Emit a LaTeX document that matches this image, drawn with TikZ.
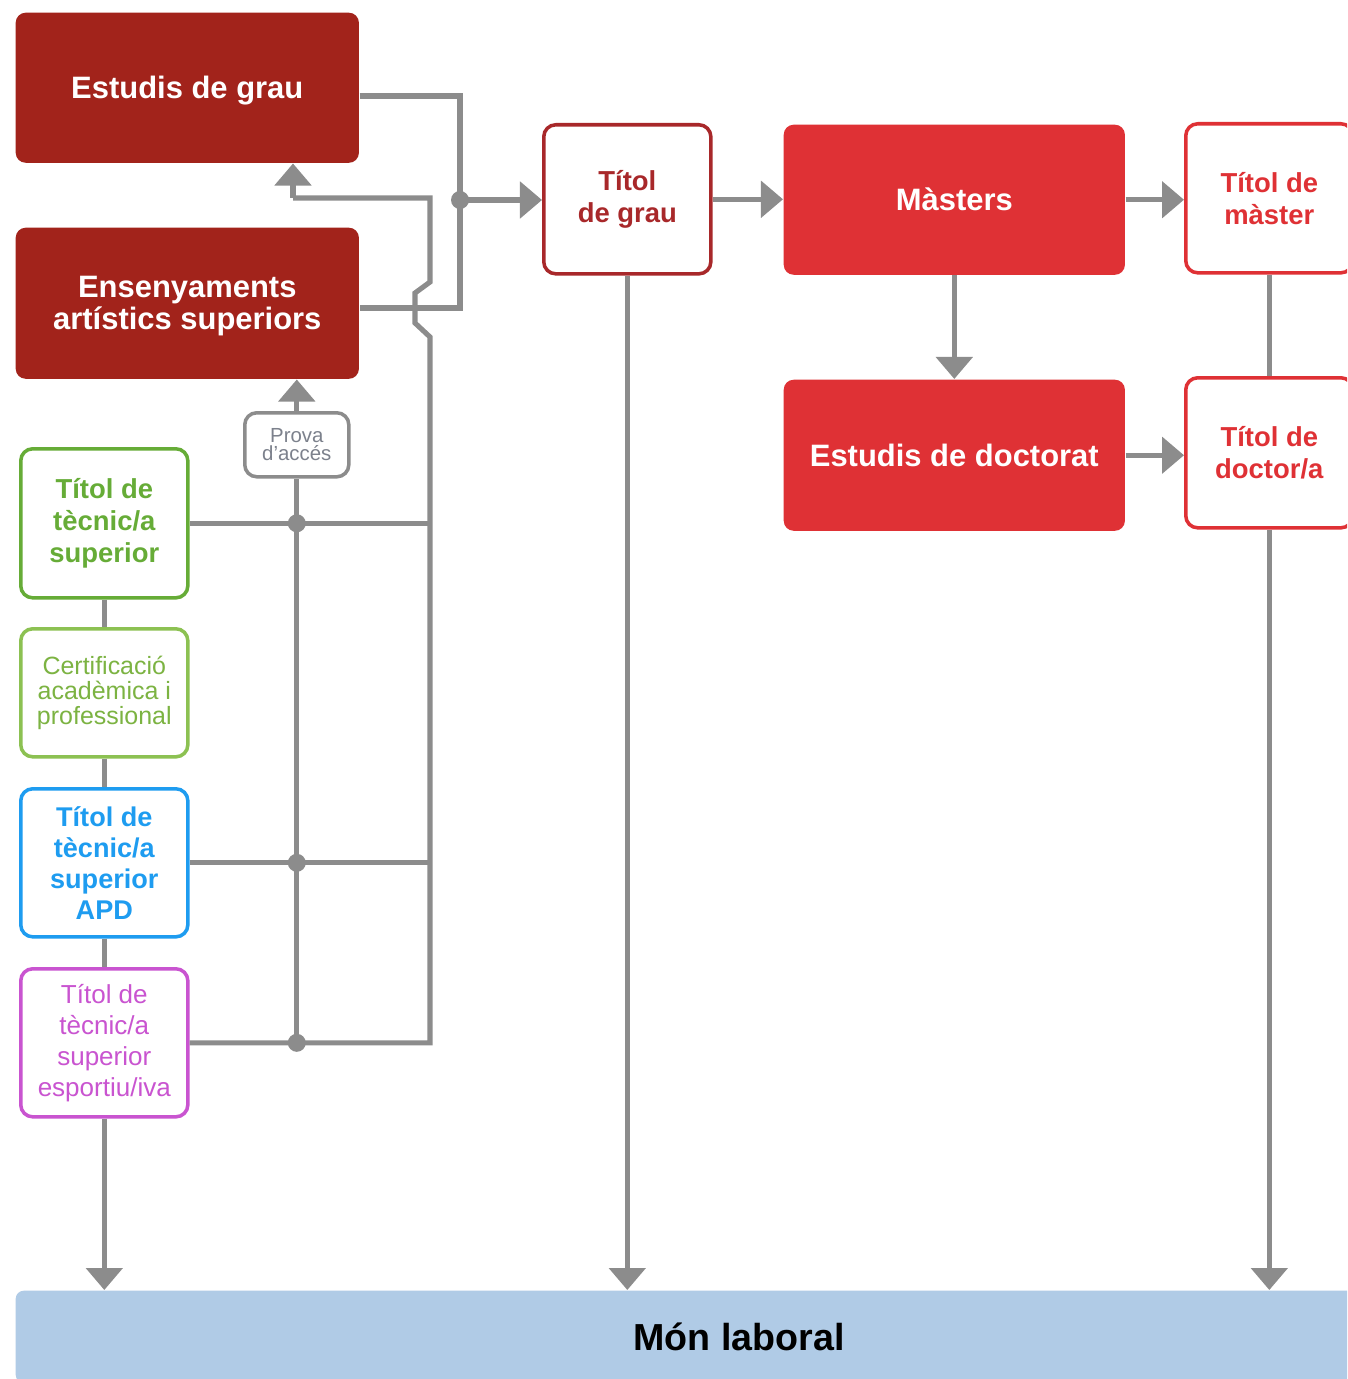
\documentclass[tikz,border=0pt]{standalone}
\usepackage{fontspec}
\setmainfont{Liberation Sans}
\usetikzlibrary{arrows.meta}
\definecolor{dkred}{HTML}{A2231B}
\definecolor{tgred}{HTML}{A8282A}
\definecolor{brred}{HTML}{DF3135}
\definecolor{grA}{HTML}{66AC37}
\definecolor{grB}{HTML}{8CC152}
\definecolor{grBt}{HTML}{7CB342}
\definecolor{blu}{HTML}{1E9CF0}
\definecolor{mag}{HTML}{C954D0}
\definecolor{lgray}{HTML}{8C8C8C}
\definecolor{monc}{HTML}{B0CBE6}
\definecolor{provat}{HTML}{7C818C}
\begin{document}
\begin{tikzpicture}[x=0.01cm,y=-0.01cm,
 box/.style={anchor=north west, rounded corners=0.1cm, inner sep=0pt, align=center},
 solidbox/.style={box, fill=#1, text=white, font=\fontsize{8.8pt}{9.1pt}\selectfont\bfseries},
 titbox/.style={box, draw=#1, fill=white, line width=1pt, text=#1, rounded corners=0.12cm, font=\fontsize{7.8pt}{9.1pt}\selectfont\bfseries},
 conn/.style={draw=lgray, line width=1.45pt},
 arr/.style={conn, -{Triangle[width=0.36cm,length=0.22cm]}},
 jdot/.style={circle, fill=lgray, inner sep=0pt, minimum size=0.18cm}
]
\useasboundingbox (0,0) rectangle (1347,1379);
\fill[white] (0,0) rectangle (1347,1379);
\clip (0,0) rectangle (1347,1379);

% main boxes
\node[solidbox=dkred, minimum width=3.43cm, minimum height=1.50cm, text depth=0pt] (grau) at (15,12) {Estudis de grau};
\node[solidbox=dkred, minimum width=3.43cm, minimum height=1.51cm, text depth=0pt] (ens) at (15,227) {Ensenyaments\\artístics superiors};
\node[titbox=tgred, minimum width=1.67cm, minimum height=1.49cm] (tgrau) at (542,123) {Títol\\de grau};
\node[solidbox=brred, minimum width=3.41cm, minimum height=1.50cm] (mast) at (783,124) {Màsters};
\node[titbox=brred, minimum width=1.67cm, minimum height=1.49cm] (tmast) at (1184,122) {Títol de\\màster};
\node[solidbox=brred, minimum width=3.41cm, minimum height=1.51cm] (doct) at (783,379) {Estudis de doctorat};
\node[titbox=brred, minimum width=1.67cm, minimum height=1.50cm] (tdoct) at (1184,376) {Títol de\\doctor/a};

\node[box, draw=lgray, line width=1pt, fill=white, text=provat, rounded corners=0.12cm,
      minimum width=1.04cm, minimum height=0.64cm,
      font=\fontsize{5.8pt}{5.2pt}\selectfont] (prova) at (243,411) {Prova\\d'accés};

% left column
\node[titbox=grA, minimum width=1.67cm, minimum height=1.49cm] (tsup) at (19,447) {Títol de\\tècnic/a\\superior};
\node[box, draw=grB, fill=white, line width=1pt, text=grBt, rounded corners=0.12cm,
      minimum width=1.67cm, minimum height=1.28cm,
      font=\fontsize{7.1pt}{7.2pt}\selectfont] (cert) at (19,627) {Certificació\\acadèmica i\\professional};
\node[box, draw=blu, fill=white, line width=1pt, text=blu, rounded corners=0.12cm,
      minimum width=1.67cm, minimum height=1.48cm,
      font=\fontsize{7.7pt}{8.8pt}\selectfont\bfseries] (apd) at (19,787) {Títol de\\tècnic/a\\superior\\APD};
\node[box, draw=mag, fill=white, line width=1pt, text=mag, rounded corners=0.12cm,
      minimum width=1.67cm, minimum height=1.48cm,
      font=\fontsize{7.4pt}{8.8pt}\selectfont] (esp) at (19,967) {Títol de\\tècnic/a\\superior\\esportiu/iva};

% bottom
\node[box, fill=monc, rounded corners=0.08cm, minimum width=14.46cm, minimum height=0.92cm,
      font=\fontsize{10.7pt}{12pt}\selectfont\bfseries, text=black] (mon) at (15,1290) {Món laboral};

% coordinates
\coordinate (ga) at (460,96);
\coordinate (gb) at (460,308);
\coordinate (j1) at (460,200);
\coordinate (colB) at (430,0);
\coordinate (k1) at (430,337);
\coordinate (k2) at (415,323);
\coordinate (k3) at (415,293);
\coordinate (k4) at (430,282);
\coordinate (k5) at (430,198);
\coordinate (k6) at (293,198);

% connectors
\draw[conn] (grau.east|-ga) -- (ga) -- (gb) -- (ens.east|-gb);
\draw[arr] (j1) -- (tgrau.west|-j1);
\node[jdot] (d0) at (j1) {};
\draw[arr] (tgrau.east) -- (mast.west|-tgrau.east);
\draw[arr] (mast.east) -- (tmast.west|-mast.east);
\draw[arr] (mast.south) -- (doct.north);
\draw[arr] (doct.east) -- (tdoct.west|-doct.east);
\draw[conn] (tmast.south) -- (tdoct.north);
\draw[arr] (tdoct.south) -- (tdoct.south|-mon.north);
\draw[arr] (tgrau.south) -- (tgrau.south|-mon.north);
\draw[arr] (esp.south) -- (esp.south|-mon.north);
\draw[conn] (tsup.south) -- (cert.north);
\draw[conn] (cert.south) -- (apd.north);
\draw[conn] (apd.south) -- (esp.north);

\draw[conn] (tsup.east) -- (tsup.east-|colB);
\draw[conn] (apd.east) -- (apd.east-|colB);
\draw[conn] (esp.east) -- (esp.east-|colB) -- (k1) -- (k2) -- (k3) -- (k4) -- (k5) -- (k6);
\draw[arr] (k6) -- (k6|-grau.south);
\draw[conn] (prova.south|-esp.east) -- (prova.south);
\draw[arr] (prova.north) -- (prova.north|-ens.south);
\node[jdot] (d1) at (prova.south|-tsup.east) {};
\node[jdot] (d2) at (prova.south|-apd.east) {};
\node[jdot] (d3) at (prova.south|-esp.east) {};
\end{tikzpicture}
\end{document}
